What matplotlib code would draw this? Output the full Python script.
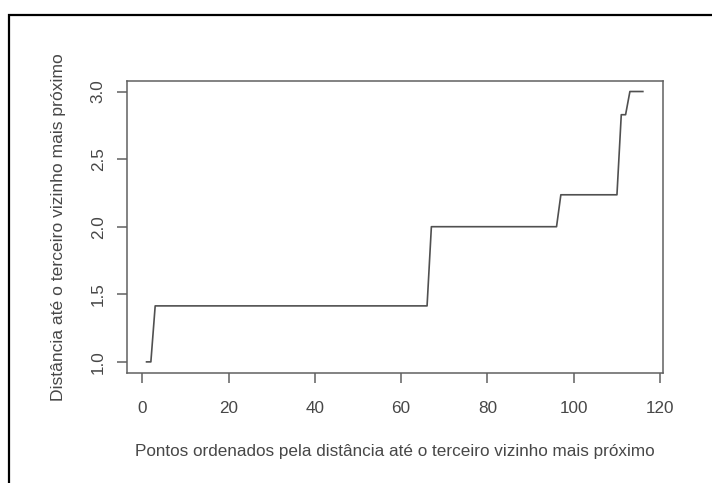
import matplotlib
matplotlib.use("Agg")
import matplotlib.pyplot as plt
import numpy as np
from matplotlib.patches import Rectangle

# sorted 3-NN distances: each distinct level and how many points share it
dist_levels = [1.0, np.sqrt(2), 2.0, np.sqrt(5), np.sqrt(8), 3.0]
level_counts = [2, 64, 30, 14, 2, 4]
x_ticks = [0, 20, 40, 60, 80, 100, 120]
y_ticks = [1.0, 1.5, 2.0, 2.5, 3.0]

kdist = np.repeat(dist_levels, level_counts)
pts = np.arange(1, len(kdist) + 1)

plt.rcParams['font.family'] = ['Liberation Sans', 'DejaVu Sans']
txt = '#474747'
W, H = 712, 483
fig = plt.figure(figsize=(W / 100, H / 100), dpi=100)

# black frame round the figure
fig.patches.append(Rectangle((9 / W, -0.05), 1.2, (H - 15) / H + 0.05,
                             transform=fig.transFigure, fill=False,
                             edgecolor='black', linewidth=1.6))

ax = fig.add_axes([126.7 / W, (H - 372.7) / H, (662.7 - 126.7) / W, (372.7 - 80.7) / H])
ax.plot(pts, kdist, color='#505050', linewidth=1.2)

# R-style 4% padding
xr = pts[-1] - pts[0]
yr = kdist.max() - kdist.min()
ax.set_xlim(pts[0] - 0.04 * xr, pts[-1] + 0.04 * xr)
ax.set_ylim(kdist.min() - 0.04 * yr, kdist.max() + 0.04 * yr)

ax.set_xticks(x_ticks)
ax.set_yticks(y_ticks)
ax.set_yticklabels([f'{v:.1f}' for v in y_ticks], rotation=90, va='center')
for s in ax.spines.values():
    s.set_color('#606060')
    s.set_linewidth(1.1)
ax.tick_params(colors='#606060', labelcolor=txt, length=7.3, width=1.1,
               labelsize=12.3)
ax.tick_params(axis='x', pad=13)
ax.tick_params(axis='y', pad=7.8)

ax.set_xlabel('Pontos ordenados pela distância até o terceiro vizinho mais próximo',
              fontsize=12.3, color=txt, labelpad=20)
ax.set_ylabel('Distância até o terceiro vizinho mais próximo',
              fontsize=12.6, color=txt, labelpad=18)

fig.savefig('out.png', dpi=100)
